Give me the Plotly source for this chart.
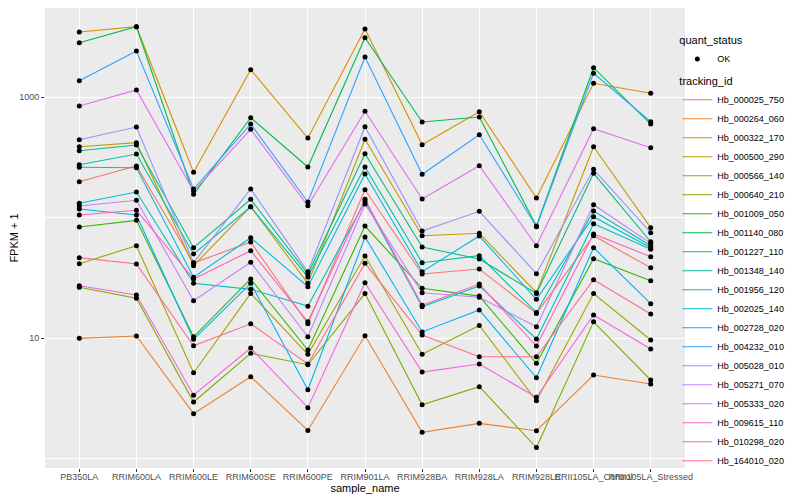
import plotly.graph_objects as go

samples = ["PB350LA", "RRIM600LA", "RRIM600LE", "RRIM600SE", "RRIM600PE", "RRIM901LA",
           "RRIM928BA", "RRIM928LA", "RRIM928LE", "RRII105LA_Control", "RRII105LA_Stressed"]

tracking_ids = ["Hb_000025_750", "Hb_000264_060", "Hb_000322_170", "Hb_000500_290", "Hb_000566_140",
                "Hb_000640_210", "Hb_001009_050", "Hb_001140_080", "Hb_001227_110", "Hb_001348_140",
                "Hb_001956_120", "Hb_002025_140", "Hb_002728_020", "Hb_004232_010", "Hb_005028_010",
                "Hb_005271_070", "Hb_005333_020", "Hb_009615_110", "Hb_010298_020", "Hb_164010_020"]

# FPKM + 1 per sample
Hb_000025_750 = [199.4, 269.1, 42.2, 63.0, 13.2, 171.1, 34.2, 37.6, 16.1, 71.0, 38.5]
Hb_000264_060 = [10.0, 10.45, 2.37, 4.80, 1.72, 10.5, 1.66, 1.97, 1.71, 4.96, 4.18]
Hb_000322_170 = [3482, 3853, 238.6, 1694, 459.4, 3688, 404.3, 759.4, 146.0, 1307, 1079]
Hb_000500_290 = [389.0, 420.1, 40.05, 123.6, 28.6, 448.2, 71.0, 74.4, 23.9, 389.0, 82.8]
Hb_000566_140 = [41.6, 58.7, 5.18, 23.6, 7.37, 48.2, 7.37, 12.8, 3.03, 23.5, 9.68]
Hb_000640_210 = [26.5, 21.5, 2.96, 7.51, 6.04, 23.5, 2.81, 3.97, 1.24, 13.7, 4.51]
Hb_001009_050 = [83.9, 95.3, 10.3, 31.1, 8.0, 85.5, 26.0, 22.4, 6.20, 45.8, 30.1]
Hb_001140_080 = [2839, 3853, 156.7, 677.0, 264.0, 3123, 623.7, 686.1, 85.5, 1760, 600.1]
Hb_001227_110 = [360.5, 402.0, 56.5, 142.4, 34.2, 340.4, 57.3, 45.5, 23.6, 234.1, 63.3]
Hb_001348_140 = [275.9, 338.4, 50.1, 123.6, 32.3, 264.0, 42.4, 48.5, 16.4, 113.9, 58.7]
Hb_001956_120 = [131.9, 163.8, 28.6, 25.5, 18.5, 136.6, 18.3, 27.2, 9.87, 89.3, 54.8]
Hb_002025_140 = [262.5, 260.5, 32.1, 68.4, 26.8, 230.9, 35.7, 70.6, 21.1, 102.1, 56.5]
Hb_002728_020 = [118.3, 105.5, 9.81, 28.6, 3.74, 69.3, 11.3, 17.2, 4.71, 56.5, 19.4]
Hb_004232_010 = [1373, 2423, 173.4, 600.1, 135.3, 2160, 229.6, 489.4, 84.4, 1582, 627.3]
Hb_005028_010 = [444.7, 566.8, 42.4, 173.4, 35.7, 570.2, 77.7, 113.2, 34.4, 252.6, 75.2]
Hb_005271_070 = [125.3, 139.7, 20.5, 42.7, 10.3, 130.2, 23.9, 21.9, 12.5, 128.5, 61.4]
Hb_005333_020 = [846.8, 1150, 166.9, 542.4, 126.0, 765.2, 143.2, 270.6, 58.7, 548.7, 381.6]
Hb_009615_110 = [27.3, 22.9, 3.37, 8.31, 2.66, 28.9, 5.25, 6.12, 3.24, 15.6, 8.15]
Hb_010298_020 = [105.5, 115.4, 31.1, 53.3, 13.7, 142.4, 18.8, 28.2, 8.63, 73.4, 47.6]
Hb_164010_020 = [46.7, 41.4, 8.68, 13.2, 6.12, 41.9, 10.65, 7.03, 7.03, 30.6, 15.9]

series_values = [Hb_000025_750, Hb_000264_060, Hb_000322_170, Hb_000500_290, Hb_000566_140,
                 Hb_000640_210, Hb_001009_050, Hb_001140_080, Hb_001227_110, Hb_001348_140,
                 Hb_001956_120, Hb_002025_140, Hb_002728_020, Hb_004232_010, Hb_005028_010,
                 Hb_005271_070, Hb_005333_020, Hb_009615_110, Hb_010298_020, Hb_164010_020]

colors = ["#F8766D", "#EA8331", "#D89000", "#C09B00", "#A3A500", "#7CAE00", "#39B600", "#00BB4E",
          "#00BF7D", "#00C1A3", "#00BFC4", "#00BAE0", "#00B0F6", "#35A2FF", "#9590FF", "#C77CFF",
          "#E76BF3", "#FA62DB", "#FF62BC", "#FF6C91"]

quant_status = "OK"

FONT = "Liberation Sans"

fig = go.Figure()

for tid, vals, col in zip(tracking_ids, series_values, colors):
    fig.add_trace(go.Scatter(
        x=samples, y=vals, mode="lines", name=tid,
        line=dict(color=col, width=1.1),
        legend="legend2", hoverinfo="skip",
    ))

all_x, all_y = [], []
for vals in series_values:
    all_x.extend(samples)
    all_y.extend(vals)

fig.add_trace(go.Scatter(
    x=all_x, y=all_y, mode="markers", name=quant_status,
    marker=dict(color="black", size=5),
    legend="legend", showlegend=True,
))

# page body adds an 8px offset, so the figure is 8px smaller than the window
fig.update_layout(
    width=792, height=492,
    showlegend=True,
    margin=dict(l=37, r=115, t=0, b=32, autoexpand=False),
    paper_bgcolor="white",
    plot_bgcolor="#EBEBEB",
    font=dict(family=FONT, color="black"),
    legend=dict(
        title=dict(text="quant_status", font=dict(size=11, family=FONT)),
        x=0.988, xanchor="left", y=0.952, yanchor="top",
        font=dict(size=9, family=FONT), itemwidth=30,
        bgcolor="rgba(0,0,0,0)",
    ),
    legend2=dict(
        title=dict(text="tracking_id", font=dict(size=11, family=FONT)),
        x=0.988, xanchor="left", y=0.863, yanchor="top",
        font=dict(size=9, family=FONT), itemwidth=30, tracegroupgap=0,
        bgcolor="rgba(0,0,0,0)",
    ),
    xaxis=dict(
        type="category", categoryorder="array", categoryarray=samples,
        range=[-0.6, 10.6], tickangle=0,
        showgrid=True, gridcolor="white", gridwidth=1.1,
        ticks="outside", ticklen=3, tickcolor="#333333",
        ticklabelstandoff=-3,
        tickfont=dict(size=9, color="#4D4D4D", family=FONT),
        title=dict(text="sample_name", font=dict(size=11, family=FONT), standoff=2),
        zeroline=False, showline=False, automargin=False,
    ),
    yaxis=dict(
        type="log", range=[-0.076, 3.741],
        tickmode="array", tickvals=[10, 1000], ticktext=["10", "1000"],
        showgrid=True, gridcolor="white", gridwidth=1.1,
        minor=dict(tickmode="array", tickvals=[1, 100, 10000], showgrid=True,
                   gridcolor="white", gridwidth=0.5, ticks=""),
        ticks="outside", ticklen=3, tickcolor="#333333",
        tickfont=dict(size=9, color="#4D4D4D", family=FONT),
        title=dict(text="FPKM + 1", font=dict(size=11, family=FONT), standoff=4),
        zeroline=False, showline=False, automargin=False,
    ),
)

fig.write_html("out.html")
